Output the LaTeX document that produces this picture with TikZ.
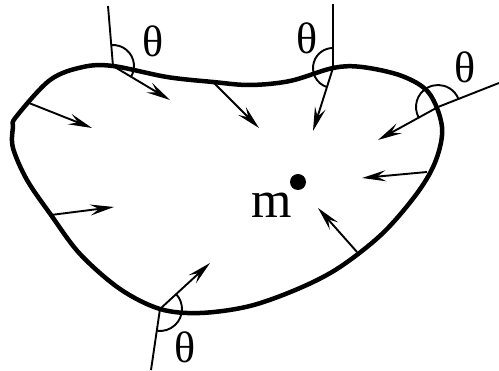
\documentclass[tikz,border=0pt]{standalone}
\usepackage{fontspec}
\setmainfont{Liberation Serif}
\usetikzlibrary{arrows.meta,calc}
\begin{document}
\begin{tikzpicture}[x=1pt,y=-1pt,
  outline/.style={line width=4.5pt,line join=round},
  normalline/.style={line width=1.9pt},
  force/.style={line width=1.9pt,-{Stealth[length=24pt,width=11pt,inset=9pt]}},
  anglearc/.style={line width=1.9pt},
  lab/.style={font=\fontsize{44}{44}\selectfont,inner sep=0pt}]
\useasboundingbox (0,0) rectangle (499,371);
% contact points
\coordinate (c1) at (113,66);
\coordinate (c2) at (333,68);
\coordinate (c3) at (438,107);
\coordinate (c4) at (160,309);
% other arrow starts on the outline
\coordinate (sa) at (29,103);
\coordinate (sb) at (213,82);
\coordinate (sd) at (427,172);
\coordinate (se) at (357,252);
\coordinate (sf) at (51,215);
% outer ends of normals
\coordinate (o1) at (108,6);
\coordinate (o2) at (333,4);
\coordinate (o3) at (499,83);
\coordinate (o4) at (151,370);
% arrow tips
\coordinate (t1) at (170,100);
\coordinate (t2) at (313,131);
\coordinate (t3) at (378,140);
\coordinate (t4) at (210,263);
\coordinate (ta) at (92,128);
\coordinate (tb) at (259,128);
\coordinate (td) at (362,178);
\coordinate (te) at (318,208);
\coordinate (tf) at (114,207);
% outline
\draw[outline] plot[smooth cycle,tension=0.55] coordinates{
 (16,117) (50,80) (83,67) (c1) (167,77) (sb) (250,85) (290,81) (c2) (362,67) (402,76) (429,93) (442,127) (436,160) (418,192) (383,233) (340,267) (300,288) (250,306) (200,313) (c4) (120,289) (80,254) (sf) (27,180) (13,148) (13,127)};
% normal lines
\draw[normalline] (o1) -- (c1);
\draw[normalline] (o2) -- (c2);
\draw[normalline] (o3) -- (c3);
\draw[normalline] (o4) -- (c4);
% forces
\foreach \s/\t in {c1/t1,c2/t2,c3/t3,c4/t4,sa/ta,sb/tb,sd/td,se/te,sf/tf}
  \draw[force] (\s) -- (\t);
% angle arcs
\draw[anglearc] ($(c1)+(-94.8:21)$) arc[start angle=-94.8,end angle=30.8,radius=21];
\draw[anglearc] ($(c2)+(107.6:20)$) arc[start angle=107.6,end angle=270,radius=20];
\draw[anglearc] ($(c3)+(151.2:22)$) arc[start angle=151.2,end angle=338.5,radius=22];
\draw[anglearc] ($(c4)+(-42.6:22)$) arc[start angle=-42.6,end angle=98.4,radius=22];
% labels
\node[lab] (th1) at (153,41) {θ};
\node[lab] (th2) at (307,38) {θ};
\node[lab] (th3) at (465,67) {θ};
\node[lab] (th4) at (185,347) {θ};
\fill (298,182) circle[radius=8];
\node[lab,font=\fontsize{52}{52}\selectfont] (m) at (272,205) {m};
\end{tikzpicture}
\end{document}
